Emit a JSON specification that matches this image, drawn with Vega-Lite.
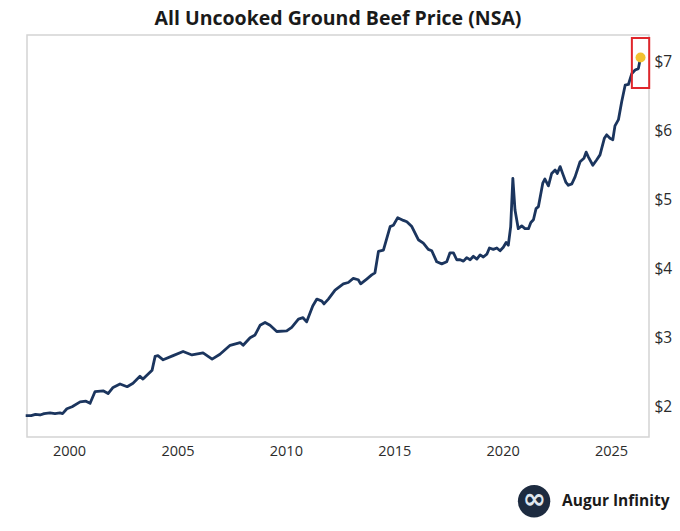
{
  "$schema": "https://vega.github.io/schema/vega-lite/v6.json",
  "autosize": {"type": "none"},
  "width": 622,
  "height": 402,
  "padding": {"left": 27, "top": 35, "right": 31, "bottom": 94},
  "background": "white",
  "title": {"text": "All Uncooked Ground Beef Price (NSA)", "font": "Open Sans", "fontSize": 19.5, "fontWeight": "bold", "color": "#1a1a1a", "anchor": "middle", "offset": 6},
  "config": {
    "view": {"stroke": "#d4d4d4", "strokeWidth": 1.5},
    "font": "Open Sans"
  },
  "layer": [
    {
      "data": {"values": [
        {"t": 1998.00, "p": 1.86}, {"t": 1998.25, "p": 1.86}, {"t": 1998.45, "p": 1.88}, {"t": 1998.66, "p": 1.87},
        {"t": 1998.85, "p": 1.89}, {"t": 1999.12, "p": 1.90}, {"t": 1999.35, "p": 1.89}, {"t": 1999.58, "p": 1.90},
        {"t": 1999.70, "p": 1.89}, {"t": 1999.90, "p": 1.96}, {"t": 2000.14, "p": 1.99}, {"t": 2000.51, "p": 2.06},
        {"t": 2000.78, "p": 2.07}, {"t": 2000.97, "p": 2.04}, {"t": 2001.20, "p": 2.21}, {"t": 2001.57, "p": 2.22},
        {"t": 2001.80, "p": 2.18}, {"t": 2002.03, "p": 2.27}, {"t": 2002.35, "p": 2.32}, {"t": 2002.68, "p": 2.28},
        {"t": 2002.95, "p": 2.33}, {"t": 2003.27, "p": 2.43}, {"t": 2003.41, "p": 2.39}, {"t": 2003.83, "p": 2.52},
        {"t": 2003.97, "p": 2.72}, {"t": 2004.10, "p": 2.73}, {"t": 2004.34, "p": 2.67}, {"t": 2004.80, "p": 2.73},
        {"t": 2005.26, "p": 2.79}, {"t": 2005.67, "p": 2.74}, {"t": 2006.18, "p": 2.77}, {"t": 2006.60, "p": 2.68},
        {"t": 2006.96, "p": 2.75}, {"t": 2007.43, "p": 2.88}, {"t": 2007.89, "p": 2.92}, {"t": 2008.03, "p": 2.88},
        {"t": 2008.35, "p": 2.99}, {"t": 2008.58, "p": 3.03}, {"t": 2008.81, "p": 3.17}, {"t": 2009.04, "p": 3.21},
        {"t": 2009.27, "p": 3.17}, {"t": 2009.58, "p": 3.08}, {"t": 2010.04, "p": 3.09}, {"t": 2010.27, "p": 3.14},
        {"t": 2010.58, "p": 3.26}, {"t": 2010.79, "p": 3.28}, {"t": 2010.96, "p": 3.22}, {"t": 2011.24, "p": 3.45},
        {"t": 2011.43, "p": 3.55}, {"t": 2011.66, "p": 3.52}, {"t": 2011.76, "p": 3.48}, {"t": 2011.96, "p": 3.55},
        {"t": 2012.27, "p": 3.68}, {"t": 2012.65, "p": 3.77}, {"t": 2012.88, "p": 3.79}, {"t": 2013.11, "p": 3.85},
        {"t": 2013.34, "p": 3.83}, {"t": 2013.45, "p": 3.77}, {"t": 2013.73, "p": 3.84}, {"t": 2013.96, "p": 3.90},
        {"t": 2014.11, "p": 3.93}, {"t": 2014.27, "p": 4.24}, {"t": 2014.50, "p": 4.26}, {"t": 2014.81, "p": 4.60},
        {"t": 2014.96, "p": 4.62}, {"t": 2015.16, "p": 4.73}, {"t": 2015.42, "p": 4.69}, {"t": 2015.58, "p": 4.67},
        {"t": 2015.81, "p": 4.60}, {"t": 2016.11, "p": 4.41}, {"t": 2016.34, "p": 4.36}, {"t": 2016.57, "p": 4.27},
        {"t": 2016.73, "p": 4.25}, {"t": 2016.96, "p": 4.09}, {"t": 2017.19, "p": 4.06}, {"t": 2017.42, "p": 4.09},
        {"t": 2017.57, "p": 4.22}, {"t": 2017.73, "p": 4.22}, {"t": 2017.88, "p": 4.12}, {"t": 2018.04, "p": 4.12},
        {"t": 2018.19, "p": 4.10}, {"t": 2018.34, "p": 4.15}, {"t": 2018.50, "p": 4.12}, {"t": 2018.65, "p": 4.17},
        {"t": 2018.81, "p": 4.13}, {"t": 2018.96, "p": 4.19}, {"t": 2019.11, "p": 4.16}, {"t": 2019.27, "p": 4.20},
        {"t": 2019.39, "p": 4.29}, {"t": 2019.57, "p": 4.27}, {"t": 2019.73, "p": 4.29}, {"t": 2019.88, "p": 4.25},
        {"t": 2020.03, "p": 4.30}, {"t": 2020.16, "p": 4.37}, {"t": 2020.26, "p": 4.33}, {"t": 2020.37, "p": 4.60},
        {"t": 2020.47, "p": 5.30}, {"t": 2020.57, "p": 4.84}, {"t": 2020.72, "p": 4.57}, {"t": 2020.88, "p": 4.61},
        {"t": 2021.03, "p": 4.57}, {"t": 2021.19, "p": 4.57}, {"t": 2021.30, "p": 4.66}, {"t": 2021.42, "p": 4.70},
        {"t": 2021.54, "p": 4.86}, {"t": 2021.65, "p": 4.89}, {"t": 2021.85, "p": 5.23}, {"t": 2021.95, "p": 5.29},
        {"t": 2022.11, "p": 5.19}, {"t": 2022.26, "p": 5.37}, {"t": 2022.42, "p": 5.42}, {"t": 2022.52, "p": 5.37},
        {"t": 2022.65, "p": 5.47}, {"t": 2022.79, "p": 5.35}, {"t": 2022.92, "p": 5.24}, {"t": 2023.03, "p": 5.20},
        {"t": 2023.19, "p": 5.22}, {"t": 2023.34, "p": 5.32}, {"t": 2023.57, "p": 5.54}, {"t": 2023.75, "p": 5.59},
        {"t": 2023.85, "p": 5.68}, {"t": 2023.95, "p": 5.61}, {"t": 2024.16, "p": 5.49}, {"t": 2024.34, "p": 5.57},
        {"t": 2024.49, "p": 5.64}, {"t": 2024.69, "p": 5.88}, {"t": 2024.80, "p": 5.93}, {"t": 2024.95, "p": 5.88},
        {"t": 2025.08, "p": 5.86}, {"t": 2025.18, "p": 6.06}, {"t": 2025.34, "p": 6.15}, {"t": 2025.49, "p": 6.41},
        {"t": 2025.65, "p": 6.65}, {"t": 2025.80, "p": 6.66}, {"t": 2025.96, "p": 6.82}, {"t": 2026.11, "p": 6.87},
        {"t": 2026.26, "p": 6.89}, {"t": 2026.36, "p": 7.05}
      ], "name": "series"},
      "layer": [
        {
          "mark": {"type": "line", "color": "#1b355e", "strokeWidth": 2.8, "strokeJoin": "round"},
          "encoding": {
            "x": {"field": "t", "type": "quantitative", "title": null,
                  "scale": {"domain": [1998.06, 2026.75], "nice": false, "zero": false},
                  "axis": {"values": [2000, 2005, 2010, 2015, 2020, 2025], "format": "d", "domain": false, "ticks": false, "grid": false,
                           "labelFontSize": 14.5, "labelColor": "#2b2b2b", "labelPadding": 7, "labelFont": "Open Sans"}},
            "y": {"field": "p", "type": "quantitative", "title": null,
                  "scale": {"domain": [1.551, 7.377], "nice": false, "zero": false},
                  "axis": {"orient": "right", "values": [2, 3, 4, 5, 6, 7], "format": "$.0f", "domain": false, "ticks": false, "grid": false,
                           "labelFontSize": 15.5, "labelColor": "#2b2b2b", "labelPadding": 5, "labelFont": "Open Sans"}}
          }
        },
        {
          "transform": [{"filter": {"field": "t", "equal": 2026.36}}],
          "mark": {"type": "point", "filled": true, "color": "#f2c230", "size": 100, "opacity": 1},
          "encoding": {
            "x": {"field": "t", "type": "quantitative", "title": null},
            "y": {"field": "p", "type": "quantitative", "title": null}
          }
        }
      ]
    },
    {
      "data": {"values": [{"label": "highlight"}]},
      "mark": {"type": "rect", "fill": null, "stroke": "#e0262b", "strokeWidth": 2, "clip": false},
      "encoding": {
        "x": {"datum": 2025.96, "type": "quantitative", "title": null},
        "x2": {"datum": 2026.76},
        "y": {"datum": 7.333, "type": "quantitative", "title": null},
        "y2": {"datum": 6.609}
      }
    },
    {
      "data": {"values": [{"label": "logo"}]},
      "mark": {"type": "point", "shape": "circle", "filled": true, "fill": "#1d2b40", "strokeWidth": 0, "size": 1050, "opacity": 1, "clip": false},
      "encoding": {
        "x": {"datum": 2021.45, "type": "quantitative", "title": null},
        "y": {"datum": 0.62, "type": "quantitative", "title": null}
      }
    },
    {
      "data": {"values": [{"label": "∞"}]},
      "mark": {"type": "text", "font": "DejaVu Sans", "fontSize": 28, "fontWeight": "bold", "fill": "#dfe6ee", "align": "center", "baseline": "middle", "clip": false},
      "encoding": {
        "text": {"field": "label"},
        "x": {"datum": 2021.45, "type": "quantitative", "title": null},
        "y": {"datum": 0.64, "type": "quantitative", "title": null}
      }
    },
    {
      "data": {"values": [{"label": "Augur Infinity"}]},
      "mark": {"type": "text", "font": "Open Sans", "fontSize": 15.5, "fontWeight": "bold", "fill": "#1a1a1a", "align": "left", "baseline": "middle", "clip": false},
      "encoding": {
        "text": {"field": "label"},
        "x": {"datum": 2022.74, "type": "quantitative", "title": null},
        "y": {"datum": 0.62, "type": "quantitative", "title": null}
      }
    }
  ]
}
